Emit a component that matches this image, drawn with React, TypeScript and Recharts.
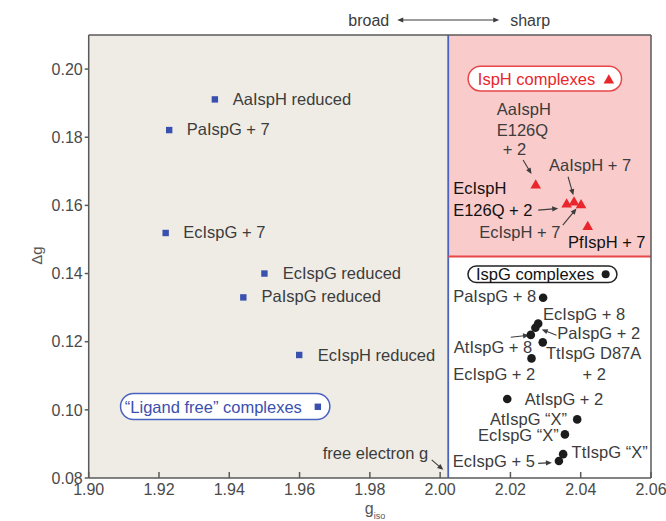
import React from "react";
import {
  ScatterChart,
  Scatter,
  XAxis,
  YAxis,
  ReferenceArea,
  ReferenceLine,
  ReferenceDot,
} from "recharts";

const FONT = '"Liberation Sans", Arial, Helvetica, sans-serif';
const BLUE = "#3a50ae";
const RED = "#e8262c";
const INK = "#3c3c3c";
const DARK = "#111111";
const AXIS = "#5a5a5a";

const FREE_ELECTRON_G = 2.0023;
const PANE_SPLIT = 0.145;

const xTicks = [1.9, 1.92, 1.94, 1.96, 1.98, 2.0, 2.02, 2.04, 2.06];
const yTicks = [0.08, 0.1, 0.12, 0.14, 0.16, 0.18, 0.2];

// "ligand free" (reduced) enzymes
const ligandFree = [
  { name: "AaIspH reduced", g: 1.9359, dg: 0.1911 },
  { name: "PaIspG + 7", g: 1.9229, dg: 0.1821 },
  { name: "EcIspG + 7", g: 1.9219, dg: 0.1519 },
  { name: "EcIspG reduced", g: 1.95, dg: 0.14 },
  { name: "PaIspG reduced", g: 1.944, dg: 0.133 },
  { name: "EcIspH reduced", g: 1.9599, dg: 0.1161 },
];

const isphComplexes = [
  { name: "AaIspH E126Q + 2", g: 2.0272, dg: 0.1662 },
  { name: "EcIspH E126Q + 2", g: 2.036, dg: 0.1606 },
  { name: "AaIspH + 7", g: 2.0381, dg: 0.1612 },
  { name: "EcIspH + 7", g: 2.0401, dg: 0.1604 },
  { name: "PfIspH + 7", g: 2.042, dg: 0.154 },
];

const ispgComplexes = [
  { name: "PaIspG + 8", g: 2.0293, dg: 0.1329 },
  { name: "EcIspG + 8", g: 2.0279, dg: 0.1253 },
  { name: "PaIspG + 2", g: 2.0271, dg: 0.1241 },
  { name: "AtIspG + 8", g: 2.0258, dg: 0.122 },
  { name: "TtIspG D87A + 2", g: 2.0292, dg: 0.1198 },
  { name: "EcIspG + 2", g: 2.026, dg: 0.1151 },
  { name: "AtIspG + 2", g: 2.0191, dg: 0.1032 },
  { name: "AtIspG “X”", g: 2.039, dg: 0.0972 },
  { name: "EcIspG “X”", g: 2.0355, dg: 0.0928 },
  { name: "TtIspG “X”", g: 2.035, dg: 0.087 },
  { name: "EcIspG + 5", g: 2.0338, dg: 0.085 },
];

// annotation text: g = left edge, dg = vertical centre
const labels = [
  { text: "AaIspH reduced", g: 1.941, dg: 0.1911 },
  { text: "PaIspG + 7", g: 1.9279, dg: 0.1823 },
  { text: "EcIspG + 7", g: 1.9269, dg: 0.1522 },
  { text: "EcIspG reduced", g: 1.9552, dg: 0.1402 },
  { text: "PaIspG reduced", g: 1.9492, dg: 0.1332 },
  { text: "EcIspH reduced", g: 1.9652, dg: 0.1161 },
  { text: "free electron g", g: 1.9666, dg: 0.0874 },
  { text: "AaIspH", g: 2.0161, dg: 0.1881 },
  { text: "E126Q", g: 2.0161, dg: 0.1821 },
  { text: "+ 2", g: 2.0178, dg: 0.1764 },
  { text: "AaIspH + 7", g: 2.031, dg: 0.1718 },
  { text: "EcIspH", g: 2.0037, dg: 0.1651, dark: true },
  { text: "E126Q + 2", g: 2.0037, dg: 0.1586, dark: true },
  { text: "EcIspH + 7", g: 2.0111, dg: 0.1522 },
  { text: "PfIspH + 7", g: 2.0364, dg: 0.1493, dark: true },
  { text: "PaIspG + 8", g: 2.0037, dg: 0.1332 },
  { text: "EcIspG + 8", g: 2.0293, dg: 0.128 },
  { text: "PaIspG + 2", g: 2.0333, dg: 0.1224 },
  { text: "AtIspG + 8", g: 2.0039, dg: 0.1185 },
  { text: "TtIspG D87A", g: 2.0301, dg: 0.1166 },
  { text: "+ 2", g: 2.0405, dg: 0.1105 },
  { text: "EcIspG + 2", g: 2.0037, dg: 0.1105 },
  { text: "AtIspG + 2", g: 2.0241, dg: 0.1032 },
  { text: "AtIspG “X”", g: 2.0142, dg: 0.0972 },
  { text: "EcIspG “X”", g: 2.0108, dg: 0.0926 },
  { text: "TtIspG “X”", g: 2.0374, dg: 0.0875 },
  { text: "EcIspG + 5", g: 2.0036, dg: 0.0848 },
];

// leader arrows: tail -> head
const arrows = [
  { from: [2.0236, 0.1733], to: [2.026, 0.1692] },
  { from: [2.0364, 0.1684], to: [2.0379, 0.163] },
  { from: [2.0279, 0.1586], to: [2.0336, 0.1591] },
  { from: [2.0349, 0.1542], to: [2.0388, 0.1591] },
  { from: [2.0331, 0.1219], to: [2.0289, 0.1236] },
  { from: [2.0201, 0.1213], to: [2.0253, 0.1219] },
  { from: [2.0279, 0.0843], to: [2.0318, 0.0845] },
  { from: [1.9976, 0.0853], to: [2.0009, 0.0824] },
];

const Square = (p: any) => (
  <rect x={p.cx - 3.2} y={p.cy - 3.2} width={6.4} height={6.4} fill={BLUE} />
);
const Triangle = (p: any) => (
  <polygon
    points={`${p.cx},${p.cy - 5} ${p.cx + 5.3},${p.cy + 4.2} ${p.cx - 5.3},${p.cy + 4.2}`}
    fill={RED}
  />
);
const Dot = (p: any) => <circle cx={p.cx} cy={p.cy} r={4.3} fill="#1c1c1c" />;

function arrowHead(x: number, y: number, a: number, color: string) {
  const L = 6;
  const W = 2.6;
  const bx = x - L * Math.cos(a);
  const by = y - L * Math.sin(a);
  const px = -Math.sin(a) * W;
  const py = Math.cos(a) * W;
  return (
    <polygon points={`${x},${y} ${bx + px},${by + py} ${bx - px},${by - py}`} fill={color} />
  );
}

const ArrowShape = (p: any) => {
  const { x1, y1, x2, y2 } = p;
  const a = Math.atan2(y2 - y1, x2 - x1);
  return (
    <g>
      <line
        x1={x1}
        y1={y1}
        x2={x2 - 5 * Math.cos(a)}
        y2={y2 - 5 * Math.sin(a)}
        stroke={INK}
        strokeWidth={1.1}
      />
      {arrowHead(x2, y2, a, INK)}
    </g>
  );
};

const textShape = (text: string, color: string) => (p: any) => (
  <text x={p.cx} y={p.cy} dy="0.35em" fill={color} fontSize={16.5} fontFamily={FONT}>
    {text}
  </text>
);

// rounded legend box; offsets are relative to the marker
const pillShape =
  (text: string, stroke: string, textColor: string, marker: (x: number, y: number) => any,
   l: number, r: number, t: number, b: number, textLeft: number) =>
  (p: any) => {
    const { cx, cy } = p;
    return (
      <g>
        <rect
          x={cx + l}
          y={cy + t}
          width={r - l}
          height={b - t}
          rx={(b - t) / 2}
          fill="#fff"
          stroke={stroke}
          strokeWidth={1.5}
        />
        <text x={cx + textLeft} y={cy} dy="0.35em" fill={textColor} fontSize={16.5} fontFamily={FONT}>
          {text}
        </text>
        {marker(cx, cy)}
      </g>
    );
  };

const BroadSharp = (p: any) => {
  const { cx, cy } = p;
  const y = cy - 15;
  return (
    <g>
      <text x={cx - 59} y={y} dy="0.35em" textAnchor="end" fill={INK} fontSize={16} fontFamily={FONT}>
        broad
      </text>
      <line x1={cx - 46} y1={y} x2={cx + 46} y2={y} stroke={INK} strokeWidth={1.1} />
      {arrowHead(cx - 51, y, Math.PI, INK)}
      {arrowHead(cx + 51, y, 0, INK)}
      <text x={cx + 62} y={y} dy="0.35em" fill={INK} fontSize={16} fontFamily={FONT}>
        sharp
      </text>
    </g>
  );
};

export default function App() {
  return (
    <div style={{ width: 666, height: 521, fontFamily: FONT, background: "#fff" }}>
      <style>{"body{margin:0}"}</style>
      <ScatterChart width={666} height={521} margin={{ top: 35, right: 15, bottom: 0, left: 0 }}>
        <ReferenceArea x1={1.9} x2={FREE_ELECTRON_G} fill="#efece6" fillOpacity={1} />
        <ReferenceArea
          x1={FREE_ELECTRON_G}
          x2={2.06}
          y1={PANE_SPLIT}
          y2={0.21}
          fill="#f9cbcb"
          fillOpacity={1}
        />
        <XAxis
          dataKey="g"
          type="number"
          domain={[1.9, 2.06]}
          ticks={xTicks}
          tickFormatter={(v) => v.toFixed(2)}
          height={43}
          tickSize={-6}
          tickMargin={12}
          interval={0}
          stroke={AXIS}
          strokeWidth={1.5}
          tick={{ fill: "#4a4a4a", fontSize: 16 }}
          label={{
            content: (props: any) => {
              const vb = props.viewBox;
              const x = vb.x + vb.width / 2;
              return (
                <text x={x - 5} y={vb.y + 36} fill="#555" fontFamily={FONT}>
                  <tspan fontSize={16}>g</tspan>
                  <tspan fontSize={9} dy={5}>iso</tspan>
                </text>
              );
            },
          }}
        />
        <XAxis
          xAxisId="top"
          orientation="top"
          mirror
          type="number"
          domain={[1.9, 2.06]}
          ticks={xTicks}
          tick={false}
          tickSize={6}
          stroke={AXIS}
          strokeWidth={1.5}
        />
        <YAxis
          dataKey="dg"
          type="number"
          domain={[0.08, 0.21]}
          ticks={yTicks}
          tickFormatter={(v) => v.toFixed(2)}
          width={88.7}
          tickSize={4}
          tickMargin={2}
          interval={0}
          stroke={AXIS}
          strokeWidth={1.5}
          tick={{ fill: "#4a4a4a", fontSize: 16 }}
          label={{
            content: (props: any) => {
              const vb = props.viewBox;
              const y = vb.y + vb.height / 2 - 1;
              return (
                <text
                  x={36.5}
                  y={y}
                  dy="0.35em"
                  textAnchor="middle"
                  transform={`rotate(-90 36.5 ${y})`}
                  fill="#555"
                  fontSize={15}
                  fontFamily={FONT}
                >
                  Δg
                </text>
              );
            },
          }}
        />
        <YAxis
          yAxisId="right"
          orientation="right"
          mirror
          type="number"
          domain={[0.08, 0.21]}
          ticks={yTicks}
          tick={false}
          tickSize={6}
          stroke={AXIS}
          strokeWidth={1.5}
        />
        <ReferenceLine x={FREE_ELECTRON_G} stroke="#4a62c0" strokeWidth={1.8} />
        <ReferenceLine
          segment={[
            { x: FREE_ELECTRON_G, y: PANE_SPLIT },
            { x: 2.06, y: PANE_SPLIT },
          ]}
          stroke="#e8474a"
          strokeWidth={2.2}
        />
        {arrows.map((a, i) => (
          <ReferenceLine
            key={"ar" + i}
            segment={[
              { x: a.from[0], y: a.from[1] },
              { x: a.to[0], y: a.to[1] },
            ]}
            shape={ArrowShape}
          />
        ))}
        <Scatter data={ligandFree} shape={Square} isAnimationActive={false} />
        <Scatter data={isphComplexes} shape={Triangle} isAnimationActive={false} />
        <Scatter data={ispgComplexes} shape={Dot} isAnimationActive={false} />
        {labels.map((l, i) => (
          <ReferenceDot
            key={"lb" + i}
            x={l.g}
            y={l.dg}
            shape={textShape(l.text, l.dark ? DARK : INK)}
          />
        ))}
        <ReferenceDot
          x={1.9652}
          y={0.1009}
          shape={pillShape(
            "“Ligand free” complexes",
            "#4a62c0",
            BLUE,
            (x, y) => <rect x={x - 3.2} y={y - 3.2} width={6.4} height={6.4} fill={BLUE} />,
            -197.3, 12, -13.3, 12.7, -193
          )}
        />
        <ReferenceDot
          x={2.048}
          y={0.197}
          shape={pillShape(
            "IspH complexes",
            "#e8474a",
            RED,
            (x, y) => (
              <polygon
                points={`${x},${y - 5} ${x + 5.3},${y + 4.2} ${x - 5.3},${y + 4.2}`}
                fill={RED}
              />
            ),
            -140.7, 12.7, -13, 11.7, -131
          )}
        />
        <ReferenceDot
          x={2.0471}
          y={0.1398}
          shape={pillShape(
            "IspG complexes",
            "#222",
            DARK,
            (x, y) => <circle cx={x} cy={y} r={4} fill="#1c1c1c" />,
            -137.7, 11.3, -8.2, 8.2, -129.7
          )}
        />
        <ReferenceDot x={FREE_ELECTRON_G} y={0.21} ifOverflow="visible" shape={BroadSharp} />
      </ScatterChart>
    </div>
  );
}
